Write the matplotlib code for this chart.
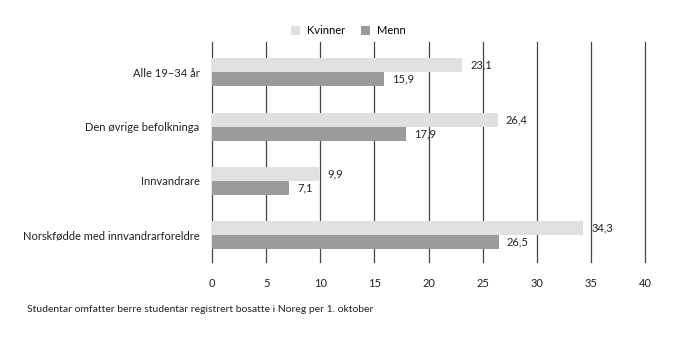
import matplotlib.pyplot as plt
import numpy as np

plt.rcParams['font.family'] = ['Lato', 'DejaVu Sans']

categories = ['Alle 19–34 år', 'Den øvrige befolkninga', 'Innvandrare',
              'Norskfødde med innvandrarforeldre']
kvinner = [23.1, 26.4, 9.9, 34.3]
menn = [15.9, 17.9, 7.1, 26.5]
ticks = [0, 5, 10, 15, 20, 25, 30, 35, 40]

c_kv = '#e0e0e0'
c_me = '#9b9b9b'

fig = plt.figure(figsize=(6.94, 3.49), dpi=100)
ax = fig.add_axes([0.3055, 0.2507, 0.6239, 0.629])

y = np.arange(len(categories))
h = 0.258
ax.barh(y - h / 2, kvinner, height=h, color=c_kv, label='Kvinner', zorder=3)
ax.barh(y + h / 2, menn, height=h, color=c_me, label='Menn', zorder=3)

for yi, v in zip(y, kvinner):
    ax.text(v + 0.75, yi - h / 2, f'{v:.1f}'.replace('.', ','), va='center',
            ha='left', fontsize=8, color='#222222')
for yi, v in zip(y, menn):
    ax.text(v + 0.75, yi + h / 2, f'{v:.1f}'.replace('.', ','), va='center',
            ha='left', fontsize=8, color='#222222')

ax.set_xlim(0, 40)
ax.set_ylim(3.488, -0.561)
ax.set_xticks(ticks)
ax.set_xticklabels([str(t) for t in ticks], fontsize=8)
ax.set_yticks(y)
ax.set_yticklabels(categories, fontsize=8)
ax.tick_params(axis='both', length=0, colors='#222222')
ax.tick_params(axis='x', pad=12)
ax.tick_params(axis='y', pad=9)
ax.grid(axis='x', color='#444444', linewidth=0.9, zorder=0)
for gl in ax.get_xgridlines():
    gl.set_clip_on(False)
for s in ax.spines.values():
    s.set_visible(False)

ax.legend(loc='lower center', bbox_to_anchor=(0.315, 1.0), ncol=2, frameon=False,
          fontsize=8, handlelength=0.8, handleheight=0.8, handletextpad=0.6,
          columnspacing=1.5, borderaxespad=0.1)

fig.text(0.039, 0.113, 'Studentar omfatter berre studentar registrert bosatte i Noreg per 1. oktober',
         fontsize=7.5, color='#222222', va='center')

fig.savefig('out.png', dpi=100)
